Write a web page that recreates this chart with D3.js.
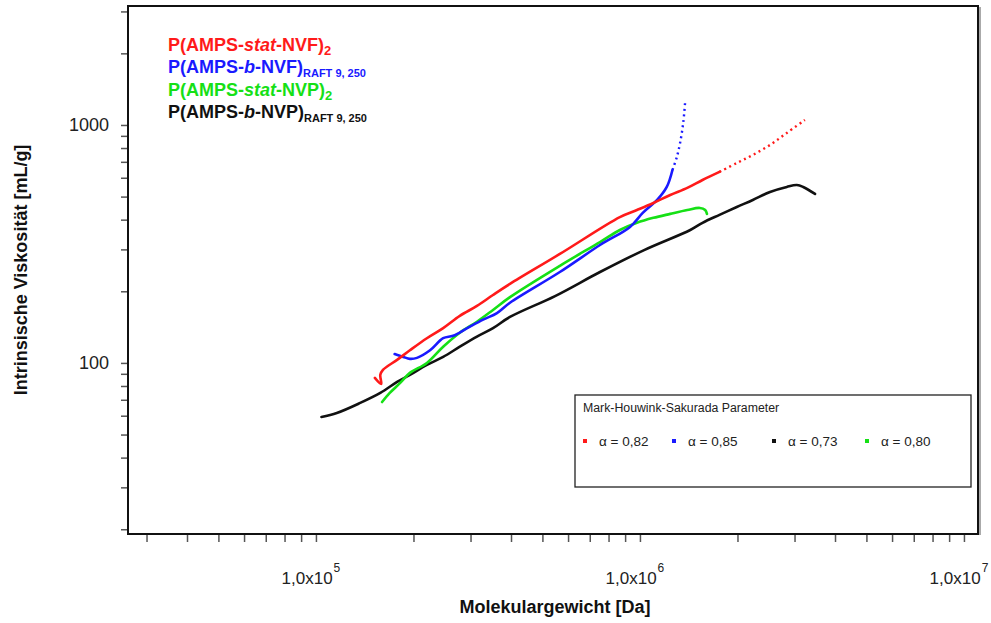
<!DOCTYPE html>
<html>
<head>
<meta charset="utf-8">
<script src="https://cdn.jsdelivr.net/npm/d3@7"></script>
<style>
  html, body { margin: 0; padding: 0; background: #fff; }
  svg { display: block; }
  text { font-family: "Liberation Sans", Arial, sans-serif; }
</style>
</head>
<body>
<svg id="chart" width="991" height="623"></svg>
<script>
// ---------- DATA ----------
// Molecular weight [Da] and intrinsic viscosity [mL/g]
const redM   = [1.52e5, 1.59e5, 1.58e5, 1.61e5, 1.78e5, 1.95e5, 2.20e5, 2.47e5, 2.78e5, 3.14e5, 3.52e5, 3.97e5, 5.66e5, 8.67e5, 9.79e5, 1.10e6, 1.24e6, 1.40e6, 1.56e6, 1.76e6, 1.99e6, 2.23e6, 2.52e6, 2.84e6, 3.23e6];
const redEta = [86.5, 81.6, 89.1, 93.5, 103, 113, 127, 140, 157.6, 173.6, 193, 214.8, 287, 410, 439, 470, 508, 544, 587, 635, 692, 748, 824, 926, 1050];

const blueM   = [1.75e5, 1.86e5, 1.95e5, 2.05e5, 2.25e5, 2.47e5, 2.65e5, 2.93e5, 3.28e5, 3.62e5, 3.97e5, 5.66e5, 7.53e5, 9.32e5, 1.02e6, 1.13e6, 1.21e6, 1.26e6, 1.30e6, 1.33e6, 1.36e6, 1.38e6];
const blueEta = [109, 106, 104, 105, 113, 127, 130, 140, 152, 162, 179, 241, 313, 373, 427, 484, 549, 647, 734, 840, 1020, 1270];

const greenM   = [1.60e5, 1.69e5, 1.82e5, 1.95e5, 2.20e5, 2.47e5, 2.78e5, 3.14e5, 3.52e5, 3.97e5, 5.66e5, 7.53e5, 8.67e5, 9.79e5, 1.10e6, 1.24e6, 1.40e6, 1.53e6, 1.59e6, 1.61e6];
const greenEta = [68.5, 74.8, 82.4, 90.8, 100, 117, 134, 149, 167, 189, 256, 322, 362, 388, 407, 423, 439, 448, 439, 423];

const blackM   = [1.04e5, 1.16e5, 1.37e5, 1.58e5, 1.78e5, 1.95e5, 2.20e5, 2.47e5, 2.78e5, 3.14e5, 3.52e5, 3.97e5, 5.47e5, 7.53e5, 1.03e6, 1.43e6, 1.56e6, 1.76e6, 1.99e6, 2.23e6, 2.52e6, 2.84e6, 3.05e6, 3.19e6, 3.47e6];
const blackEta = [59.3, 61.6, 67.9, 74.8, 83.2, 89.1, 98.1, 106, 117, 129, 140, 156, 191, 241, 298, 362, 388, 419, 452, 484, 523, 549, 559, 549, 513];

// Where the sampling becomes sparse (dotted tail), as an M value
const tailFromM = { red: 1.76e6, blue: 1.26e6, green: Infinity, black: Infinity };

const alphaLabels = ["α = 0,82", "α = 0,85", "α = 0,73", "α = 0,80"];
const alphaSeries = ["red", "blue", "black", "green"];

const xMajorTicks = [1e5, 1e6, 1e7];
const xTickExponents = ["5", "6", "7"];
const yMajorTicks = [100, 1000];
const yTickLabels = ["100", "1000"];

// ---------- STYLE / LAYOUT ----------
const colors = { red: "#ff1a1a", blue: "#1a1aff", green: "#16e016", black: "#111111" };
const plot = { left: 128, right: 978, top: 6, bottom: 534 };

const svg = d3.select("#chart");

const x = d3.scaleLog().domain([26300, 1.105e7]).range([plot.left, plot.right]);
const y = d3.scaleLog().domain([19.1, 3162]).range([plot.bottom, plot.top]);

// minor tick values
const xTicksAll = [];
for (let e = 4; e <= 7; e++) for (let m = 1; m <= 9; m++) {
  const v = m * Math.pow(10, e);
  if (v >= x.domain()[0] && v <= x.domain()[1]) xTicksAll.push(v);
}
const yTicksAll = [];
for (let e = 1; e <= 3; e++) for (let m = 1; m <= 9; m++) {
  const v = m * Math.pow(10, e);
  if (v >= y.domain()[0] && v <= y.domain()[1]) yTicksAll.push(v);
}

// ---------- AXES ----------
const xAxis = d3.axisBottom(x).tickValues(xTicksAll).tickSize(8).tickFormat("");
const gx = svg.append("g").attr("transform", `translate(0,${plot.bottom})`).call(xAxis);
gx.select(".domain").remove();
gx.selectAll(".tick line").attr("stroke", "#555").attr("stroke-width", 1.5);

const yAxis = d3.axisLeft(y).tickValues(yTicksAll).tickSize(7).tickFormat("");
const gy = svg.append("g").attr("transform", `translate(${plot.left},0)`).call(yAxis);
gy.select(".domain").remove();
gy.selectAll(".tick line").attr("stroke", "#555").attr("stroke-width", 1.5);

// tick labels x
const xl = svg.append("g");
xMajorTicks.forEach((v, i) => {
  const t = xl.append("text")
    .attr("x", x(v) - 5).attr("y", 584)
    .attr("text-anchor", "middle")
    .attr("font-size", 17).attr("fill", "#222");
  t.append("tspan").text("1,0x10");
  t.append("tspan").attr("font-size", 12).attr("dy", -12).attr("dx", 1).text(xTickExponents[i]);
});
// tick labels y
yMajorTicks.forEach((v, i) => {
  svg.append("text")
    .attr("x", 109).attr("y", y(v) + 6)
    .attr("text-anchor", "end")
    .attr("font-size", 18).attr("fill", "#222")
    .text(yTickLabels[i]);
});

// axis titles
svg.append("text")
  .attr("x", 555).attr("y", 613)
  .attr("text-anchor", "middle")
  .attr("font-size", 18).attr("font-weight", "bold").attr("fill", "#111")
  .text("Molekulargewicht [Da]");
svg.append("text")
  .attr("transform", "translate(27,270) rotate(-90)")
  .attr("text-anchor", "middle")
  .attr("font-size", 18).attr("font-weight", "bold").attr("fill", "#111")
  .text("Intrinsische Viskosität [mL/g]");

// ---------- CURVES ----------
const seriesList = [
  { key: "black", M: blackM, eta: blackEta },
  { key: "green", M: greenM, eta: greenEta },
  { key: "blue",  M: blueM,  eta: blueEta },
  { key: "red",   M: redM,   eta: redEta }
];
const line = d3.line().x(d => x(d[0])).y(d => y(d[1])).curve(d3.curveCatmullRom.alpha(0.5));
const gLines = svg.append("g");
seriesList.forEach(s => {
  const pts = s.M.map((m, i) => [m, s.eta[i]]);
  const cut = tailFromM[s.key];
  const head = pts.filter(p => p[0] <= cut);
  const tail = pts.filter(p => p[0] >= cut);
  gLines.append("path").attr("d", line(head))
    .attr("fill", "none").attr("stroke", colors[s.key])
    .attr("stroke-width", 2.6).attr("stroke-linejoin", "round").attr("stroke-linecap", "round");
  if (tail.length > 1) {
    gLines.append("path").attr("d", line(tail))
      .attr("fill", "none").attr("stroke", colors[s.key])
      .attr("stroke-width", 2.4).attr("stroke-dasharray", "2,3.5");
  }
});

// ---------- FRAME ----------
svg.append("line").attr("x1", plot.right + 2).attr("x2", plot.right + 2)
  .attr("y1", plot.top + 1).attr("y2", plot.bottom + 1)
  .attr("stroke", "#aaa").attr("stroke-width", 2);
svg.append("rect")
  .attr("x", plot.left).attr("y", plot.top)
  .attr("width", plot.right - plot.left).attr("height", plot.bottom - plot.top)
  .attr("fill", "none").attr("stroke", "#111").attr("stroke-width", 2);

// ---------- TOP-LEFT LEGEND ----------
const legendEntries = [
  { key: "red",   pre: "P(AMPS-", mid: "stat", post: "-NVF)", sub: "2", subSize: 13 },
  { key: "blue",  pre: "P(AMPS-", mid: "b",    post: "-NVF)", sub: "RAFT 9, 250", subSize: 11 },
  { key: "green", pre: "P(AMPS-", mid: "stat", post: "-NVP)", sub: "2", subSize: 13 },
  { key: "black", pre: "P(AMPS-", mid: "b",    post: "-NVP)", sub: "RAFT 9, 250", subSize: 11 }
];
legendEntries.forEach((e, i) => {
  const t = svg.append("text")
    .attr("x", 168).attr("y", 51 + i * 22.3)
    .attr("font-size", 18).attr("font-weight", "bold").attr("fill", colors[e.key]);
  t.append("tspan").text(e.pre);
  t.append("tspan").attr("font-style", "italic").text(e.mid);
  t.append("tspan").text(e.post);
  t.append("tspan").attr("font-size", e.subSize).attr("dy", 4).text(e.sub);
});

// ---------- MHS BOX ----------
const box = svg.append("g");
box.append("rect").attr("x", 575).attr("y", 395).attr("width", 396).attr("height", 92)
  .attr("fill", "#fff").attr("stroke", "#222").attr("stroke-width", 1.3);
box.append("text").attr("x", 583).attr("y", 412)
  .attr("font-family", "DejaVu Sans").attr("font-size", 12.3).attr("fill", "#222")
  .text("Mark-Houwink-Sakurada Parameter");
const markerX = [585, 674, 774, 867];
alphaLabels.forEach((lab, i) => {
  box.append("rect").attr("x", markerX[i] - 2).attr("y", 439).attr("width", 4).attr("height", 4)
    .attr("fill", colors[alphaSeries[i]]);
  box.append("text").attr("x", markerX[i] + 14).attr("y", 446)
    .attr("font-family", "DejaVu Sans").attr("font-size", 13.5).attr("fill", "#222")
    .text(lab);
});
</script>
</body>
</html>
